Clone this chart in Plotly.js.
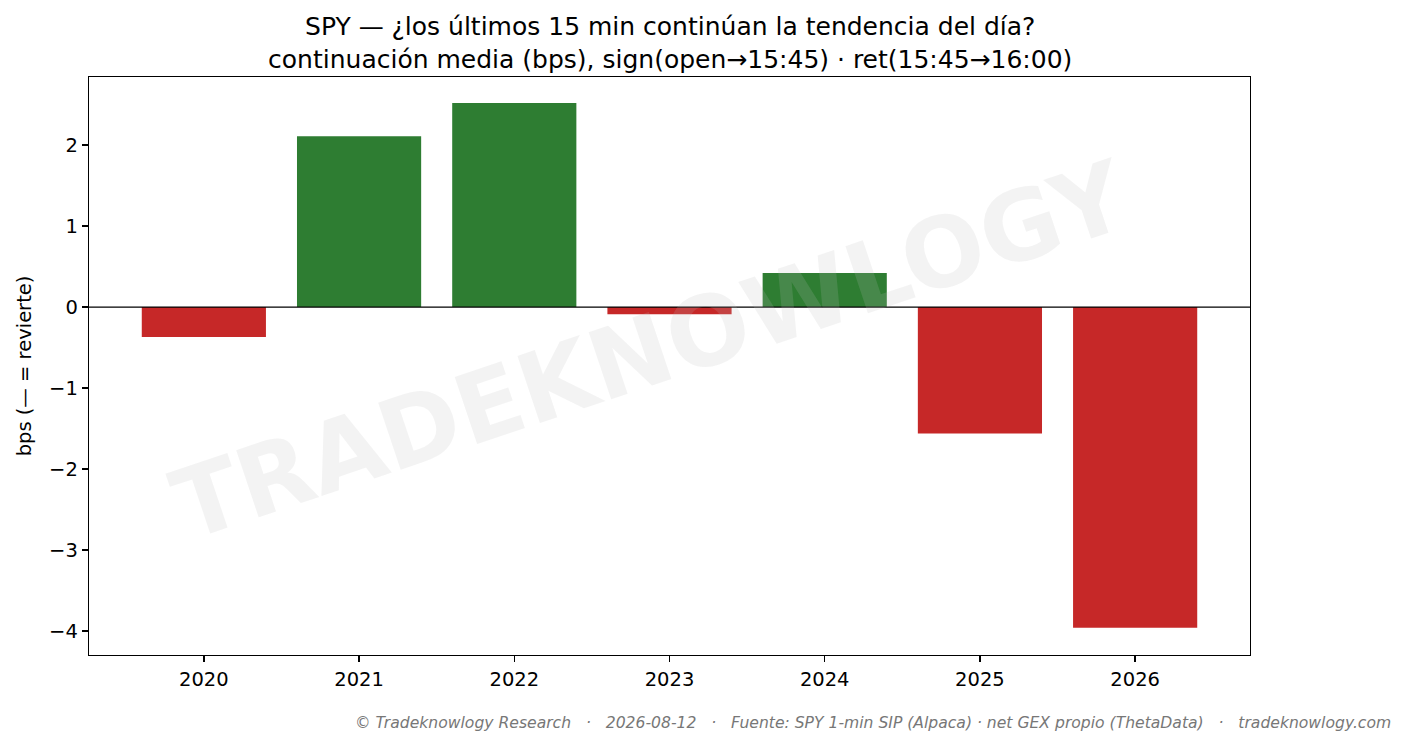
<!DOCTYPE html>
<html>
<head>
<meta charset="utf-8">
<script src="https://cdn.plot.ly/plotly-3.0.1.min.js"></script>
<style>
  html, body { margin: 0; padding: 0; background: #fff; }
  #plot { width: 1408px; height: 746px; }
</style>
</head>
<body>
<div id="plot"></div>
<script>
const years = [2020, 2021, 2022, 2023, 2024, 2025, 2026];
const continuation = [-0.37, 2.11, 2.52, -0.09, 0.42, -1.56, -3.96];
const yTicks = [-4, -3, -2, -1, 0, 1, 2];

const GREEN = "#2e7d32";
const RED = "#c62828";

const trace = {
  x: years,
  y: continuation,
  type: "bar",
  width: 0.8,
  marker: { color: continuation.map((v) => (v >= 0 ? GREEN : RED)) },
  hoverinfo: "x+y",
};

const axisCommon = {
  showgrid: false,
  zeroline: false,
  showline: true,
  mirror: true,
  linecolor: "#000",
  linewidth: 1.3,
  ticks: "outside",
  ticklen: 6,
  tickwidth: 1.3,
  tickcolor: "#000",
  tickfont: { family: "DejaVu Sans", size: 19.5, color: "#000" },
};

const layout = {
  width: 1408,
  height: 746,
  paper_bgcolor: "#fff",
  plot_bgcolor: "#fff",
  margin: { l: 89, r: 158, t: 77, b: 91 },
  font: { family: "DejaVu Sans", color: "#000" },
  showlegend: false,
  title: {
    text: "SPY — ¿los últimos 15 min continúan la tendencia del día?<br>continuación media (bps), sign(open→15:45) · ret(15:45→16:00)",
    font: { family: "DejaVu Sans", size: 25, color: "#000" },
    x: 0.476,
    xanchor: "center",
    yref: "container",
    y: 0.953,
    yanchor: "middle",
  },
  xaxis: Object.assign({}, axisCommon, {
    range: [2019.26, 2026.74],
    tickvals: years,
    ticktext: years.map(String),
  }),
  yaxis: Object.assign({}, axisCommon, {
    range: [-4.296, 2.84],
    tickvals: yTicks,
    title: {
      text: "bps (— = revierte)",
      font: { family: "DejaVu Sans", size: 19.5, color: "#000" },
      standoff: 12,
    },
  }),
  shapes: [
    {
      type: "line",
      xref: "paper",
      x0: 0,
      x1: 1,
      yref: "y",
      y0: 0,
      y1: 0,
      line: { color: "#000", width: 1.3 },
      layer: "above",
    },
  ],
  annotations: [
    {
      text: "TRADEKNOWLOGY",
      xref: "paper",
      yref: "paper",
      x: 0.484,
      y: 0.527,
      showarrow: false,
      textangle: -18.5,
      font: { family: "DejaVu Sans", size: 97, weight: "bold", color: "rgba(190,190,190,0.18)" },
    },
    {
      text: "<i>© Tradeknowlogy Research   ·   2026-08-12   ·   Fuente: SPY 1-min SIP (Alpaca) · net GEX propio (ThetaData)   ·   tradeknowlogy.com</i>",
      xref: "paper",
      yref: "paper",
      x: 1.1232,
      xanchor: "right",
      y: -0.1176,
      yanchor: "middle",
      showarrow: false,
      font: { family: "DejaVu Sans", size: 15.6, color: "#777" },
    },
  ],
};

Plotly.newPlot("plot", [trace], layout, { displayModeBar: false, staticPlot: true });
</script>
</body>
</html>
